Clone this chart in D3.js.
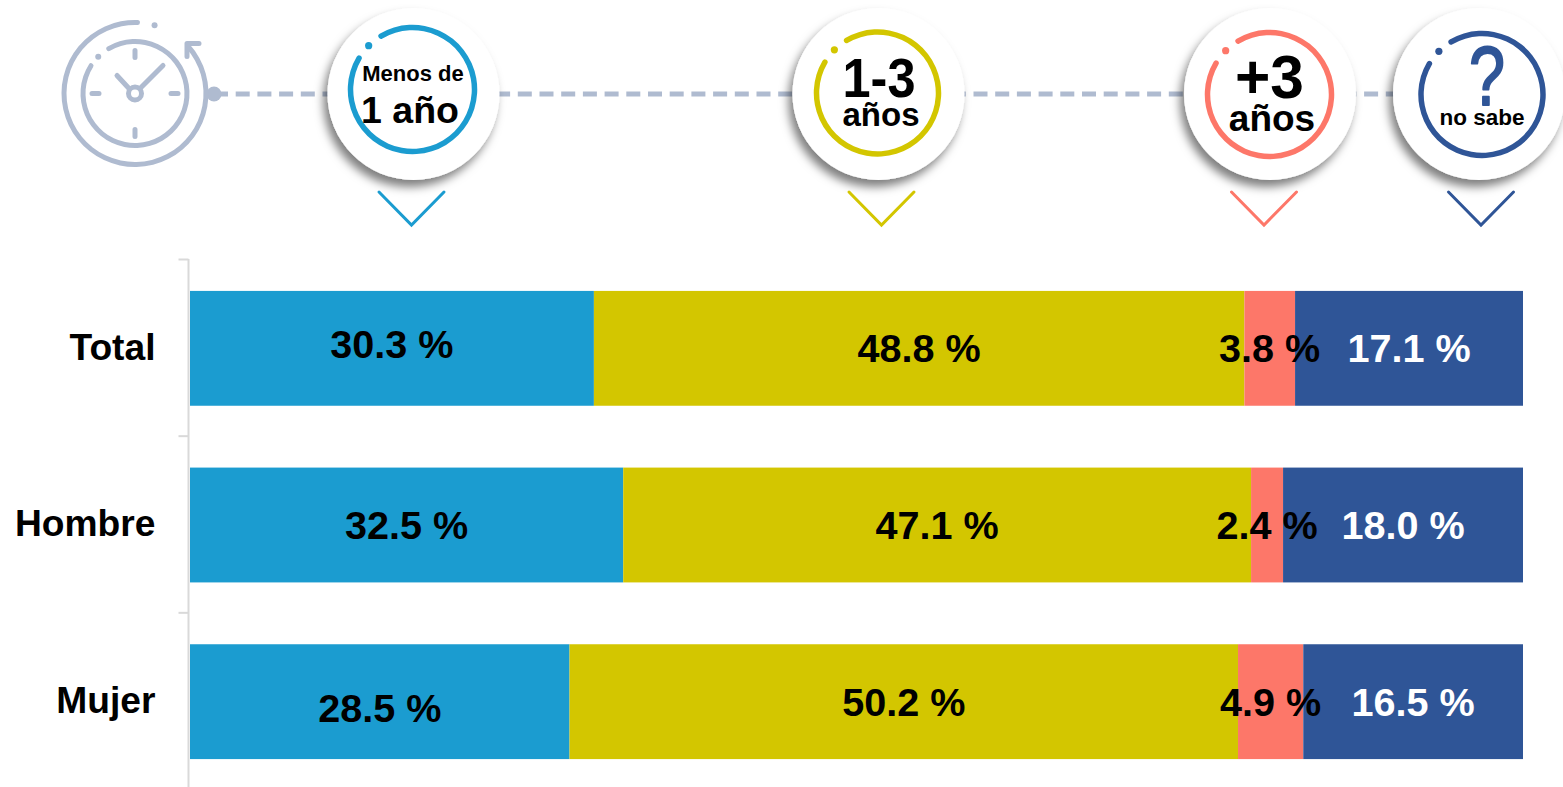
<!DOCTYPE html>
<html>
<head>
<meta charset="utf-8">
<script src="https://cdn.jsdelivr.net/npm/d3@7"></script>
<style>
    html, body { margin: 0; padding: 0; background: #fff; }
    svg { display: block; }
    text { font-family: "Liberation Sans", Arial, sans-serif; font-weight: bold; }
</style>
</head>
<body>
<svg id="svg" width="1563" height="787"></svg>
<script>
"use strict";
const categories = ["Total", "Hombre", "Mujer"];
const seriesNames = ["Menos de 1 año", "1-3 años", "+3 años", "no sabe"];
const menosDeUnAno = [30.3, 32.5, 28.5];
const unoATres = [48.8, 47.1, 50.2];
const masDeTres = [3.8, 2.4, 4.9];
const noSabe = [17.1, 18.0, 16.5];
const seriesValues = [menosDeUnAno, unoATres, masDeTres, noSabe];
const seriesColors = ["#1b9cd0", "#d3c600", "#fd7769", "#2f5597"];
const labelColors = ["#000", "#000", "#000", "#fff"];
const iconColor = "#afbbd0";
const deg = Math.PI / 180;

const svg = d3.select("#svg");

// drop shadow under the white badges
const shadow = svg.append("defs").append("filter")
    .attr("id", "badgeShadow")
    .attr("x", "-30%").attr("y", "-30%")
    .attr("width", "160%").attr("height", "160%");
shadow.append("feDropShadow")
    .attr("dx", -4).attr("dy", 7)
    .attr("stdDeviation", 5)
    .attr("flood-color", "#000")
    .attr("flood-opacity", 0.5);

// ---- chart ----
const x = d3.scaleLinear().domain([0, 1]).range([190, 1523]);
const y = d3.scaleBand().domain(categories).range([260, 790]).paddingInner(0.35).paddingOuter(0.175);

const table = categories.map((c, i) => {
    const row = { category: c };
    seriesNames.forEach((s, k) => { row[s] = seriesValues[k][i]; });
    return row;
});
const stacked = d3.stack().keys(seriesNames).offset(d3.stackOffsetExpand)(table);

svg.append("g").selectAll("g")
    .data(stacked)
    .enter().append("g")
    .attr("fill", (d, k) => seriesColors[k])
    .selectAll("rect")
    .data(d => d)
    .enter().append("rect")
    .attr("x", d => x(d[0]))
    .attr("y", d => y(d.data.category))
    .attr("width", d => x(d[1]) - x(d[0]))
    .attr("height", y.bandwidth());

// category axis, the ticks sit between the bands
const axisX = 188.5;
const axisG = svg.append("g").attr("transform", `translate(${axisX},0)`);
axisG.call(d3.axisLeft(y).tickSize(0).tickPadding(33));
axisG.select(".domain").remove();
axisG.selectAll("text")
    .attr("dy", "0.3em")
    .attr("font-size", 37.2)
    .attr("font-family", null)
    .attr("fill", "#000");
const edges = categories.map((c) => y(c) - y.step() * y.paddingInner() / 2 - 0.5);
axisG.selectAll("line.edge")
    .data(edges)
    .enter().append("line")
    .attr("class", "edge")
    .attr("x1", -10).attr("x2", 0)
    .attr("y1", d => d).attr("y2", d => d)
    .attr("stroke", "#d9d9d9").attr("stroke-width", 2);
axisG.append("line")
    .attr("y1", 259).attr("y2", 787)
    .attr("stroke", "#d9d9d9").attr("stroke-width", 2);

// value labels, two of them sit off centre in the original
const labelNudge = { "0-0": -4, "0-2": 6.5 };
svg.append("g").selectAll("g")
    .data(stacked)
    .enter().append("g")
    .attr("fill", (d, k) => labelColors[k])
    .each(function (s, k) {
        d3.select(this).selectAll("text")
            .data(s)
            .enter().append("text")
            .attr("x", d => (x(d[0]) + x(d[1])) / 2)
            .attr("y", (d, i) => y(d.data.category) + y.bandwidth() / 2 + (labelNudge[k + "-" + i] || 0))
            .attr("dy", "0.35em")
            .attr("text-anchor", "middle")
            .attr("font-size", 39.6)
            .text(d => d3.format(".1f")(seriesValues[k][categories.indexOf(d.data.category)]) + " %");
    });

// ---- timeline header ----
svg.append("line")
    .attr("x1", 214).attr("x2", 1420)
    .attr("y1", 94).attr("y2", 94)
    .attr("stroke", iconColor).attr("stroke-width", 5)
    .attr("stroke-dasharray", "14 7.7");
svg.append("circle").attr("cx", 214).attr("cy", 94).attr("r", 7.5).attr("fill", iconColor);

drawClock(svg.append("g").attr("transform", "translate(135,93.5)"));

function gapRing(g, r, width, from, to, color) {
    g.append("path")
        .attr("d", d3.arc().innerRadius(r - width / 2).outerRadius(r + width / 2)
            .startAngle(from * deg).endAngle(to * deg).cornerRadius(width / 2)())
        .attr("fill", color);
}

function ringDot(g, r, angle, size, color) {
    g.append("circle")
        .attr("cx", r * Math.sin(angle * deg))
        .attr("cy", -r * Math.cos(angle * deg))
        .attr("r", size)
        .attr("fill", color);
}

function drawClock(g) {
    gapRing(g, 71, 5, 46, 364, iconColor);
    ringDot(g, 71, 16, 3, iconColor);
    gapRing(g, 52, 5, -33, 305, iconColor);
    ringDot(g, 52, -45, 3, iconColor);
    g.append("path")
        .attr("d", "M52,-50H64M52,-50V-37M0,-43V-36M0,36V43M-43,0H-36M36,0H43M-18,-18L-6,-5M28,-28L6,-6")
        .attr("fill", "none")
        .attr("stroke", iconColor)
        .attr("stroke-width", 5)
        .attr("stroke-linecap", "round");
    g.append("circle").attr("r", 6.5)
        .attr("fill", "#fff").attr("stroke", iconColor).attr("stroke-width", 5);
}

// badge = white disc, coloured ring with a gap, text and chevron under it
const badges = [
    { cx: 413.5, rx: 412.5, ry: 89.5, r: 62, tip: 411.5, lines: [
        { t: "Menos de", x: 413, y: 81, size: 22 },
        { t: "1 año", x: 410, y: 123, size: 37.5 }] },
    { cx: 878.5, rx: 877.5, ry: 93, r: 61, tip: 881.5, lines: [
        { t: "1-3", x: 879, y: 97, size: 55, len: 73 },
        { t: "años", x: 881, y: 126, size: 33 }] },
    { cx: 1270, rx: 1269.5, ry: 94.5, r: 62, tip: 1264, lines: [
        { t: "+3", x: 1269.5, y: 98, size: 62, len: 69 },
        { t: "años", x: 1272, y: 131, size: 37 }] },
    { cx: 1479, rx: 1482, ry: 94.5, r: 61, tip: 1481, lines: [
        { t: "?", x: 1487, y: 105, size: 83, len: 36, color: seriesColors[3], weight: "normal", thick: 2 },
        { t: "no sabe", x: 1482, y: 125, size: 22.5 }] }
];

badges.forEach((b, k) => {
    const color = seriesColors[k];
    svg.append("circle")
        .attr("cx", b.cx).attr("cy", 94).attr("r", 86)
        .attr("fill", "#fff")
        .attr("filter", "url(#badgeShadow)");
    const ring = svg.append("g").attr("transform", `translate(${b.rx},${b.ry})`);
    gapRing(ring, b.r, 5.5, -33, 303, color);
    ringDot(ring, b.r, -45, 3.6, color);
    b.lines.forEach(l => {
        const t = svg.append("text")
            .attr("x", l.x).attr("y", l.y)
            .attr("text-anchor", "middle")
            .attr("font-size", l.size)
            .attr("fill", l.color || "#000")
            .text(l.t);
        if (l.len) t.attr("textLength", l.len).attr("lengthAdjust", "spacingAndGlyphs");
        if (l.weight) t.style("font-weight", l.weight);
        if (l.thick) t.attr("stroke", l.color).attr("stroke-width", l.thick).attr("stroke-linejoin", "round");
    });
    svg.append("path")
        .attr("d", d3.line()([[b.tip - 32.5, 192], [b.tip, 225], [b.tip + 32.5, 192]]))
        .attr("fill", "none")
        .attr("stroke", color)
        .attr("stroke-width", 3)
        .attr("stroke-linecap", "round");
});
</script>
</body>
</html>
